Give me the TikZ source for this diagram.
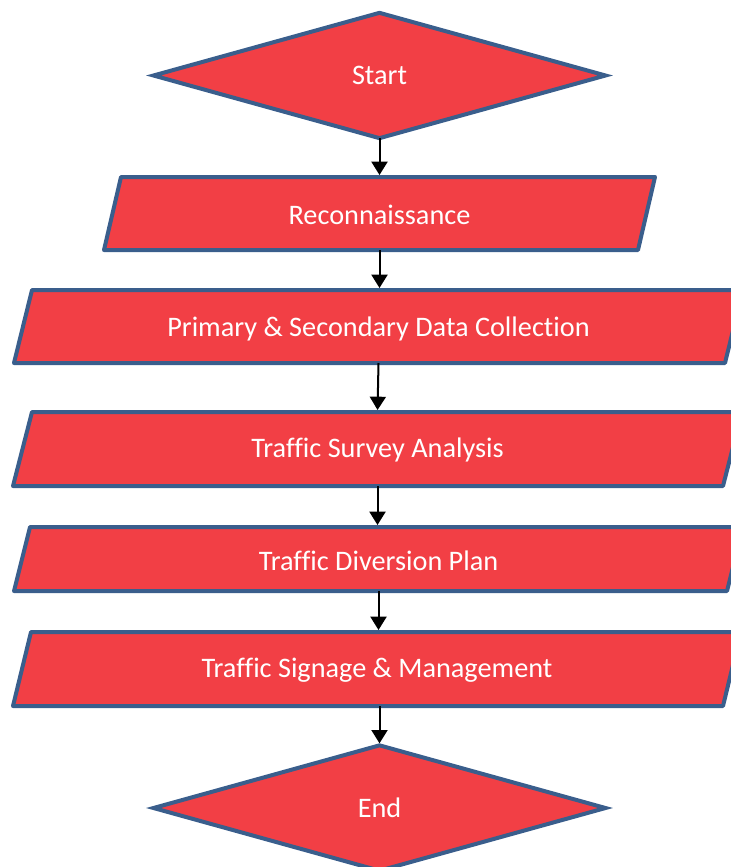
\documentclass[tikz,border=0pt]{standalone}
\usepackage{fontspec}
\setmainfont[Ligatures=NoCommon]{Carlito}
\usetikzlibrary{shapes.geometric,arrows.meta}
\definecolor{boxfill}{HTML}{F23F45}
\definecolor{boxline}{HTML}{3A5E8C}
\tikzset{
  term/.style={shape=diamond,draw=boxline,fill=boxfill,line width=3pt,inner sep=0pt,outer sep=0pt,
    minimum width=339pt,minimum height=94pt,text=white,font=\fontsize{21.2pt}{24pt}\selectfont},
  pbox/.style={shape=rectangle,draw=none,inner sep=0pt,outer sep=0pt,text=white,
    font=\fontsize{21.2pt}{24pt}\selectfont},
  pshape/.style={draw=boxline,fill=boxfill,line width=3pt,line join=round},
  flow/.style={line width=1.5pt,-{Triangle[width=12pt,length=10pt]},shorten >=1.5pt}
}
\begin{document}
\begin{tikzpicture}[x=0.75pt,y=-0.75pt]
\useasboundingbox (0,0) rectangle (731,867);
\clip (0,0) rectangle (731,867);
% start / end
\node[term] (start) at (379.5,75.5) {Start};
\node[term] (end) at (379.5,808) {End};
% process boxes (frames)
\node[pbox,minimum width=413.25pt,minimum height=54.75pt] (recon) at (379.5,213.5) {};
\node[pbox,minimum width=546.75pt,minimum height=54.75pt] (prim) at (378.5,326.5) {};
\node[pbox,minimum width=546.75pt,minimum height=55.5pt] (surv) at (377.5,449) {};
\node[pbox,minimum width=546.75pt,minimum height=48pt] (divr) at (378.5,559) {};
\node[pbox,minimum width=546pt,minimum height=55.5pt] (sign) at (377,669) {};
\draw[pshape] ([xshift=12.75pt]recon.north west) -- (recon.north east) -- ([xshift=-12.75pt]recon.south east) -- (recon.south west) -- cycle;
\draw[pshape] ([xshift=13.5pt]prim.north west) -- (prim.north east) -- ([xshift=-13.5pt]prim.south east) -- (prim.south west) -- cycle;
\draw[pshape] ([xshift=14.25pt]surv.north west) -- (surv.north east) -- ([xshift=-14.25pt]surv.south east) -- (surv.south west) -- cycle;
\draw[pshape] ([xshift=12pt]divr.north west) -- (divr.north east) -- ([xshift=-12pt]divr.south east) -- (divr.south west) -- cycle;
\draw[pshape] ([xshift=13.5pt]sign.north west) -- (sign.north east) -- ([xshift=-13.5pt]sign.south east) -- (sign.south west) -- cycle;
% labels
\node[pbox] (reconT) at ([yshift=-1pt]recon.center) {Reconnaissance};
\node[pbox] (primT) at ([yshift=-1.5pt]prim.center) {Primary \& Secondary Data Collection};
\node[pbox] (survT) at ([yshift=-1pt]surv.center) {Traffic Survey Analysis};
\node[pbox] (divrT) at ([yshift=-1pt]divr.center) {Traffic Diversion Plan};
\node[pbox] (signT) at ([yshift=-1pt]sign.center) {Traffic Signage \& Management};
% connectors
\draw[flow] (start.south) -- (start.south |- recon.north);
\draw[flow] (recon.south) -- (recon.south |- prim.north);
\draw[flow] (prim.south) -- (surv.north);
\draw[flow] (surv.south) -- (surv.south |- divr.north);
\draw[flow] (divr.south) -- (divr.south |- sign.north);
\draw[flow] (sign.south -| end.north) -- (end.north);
\end{tikzpicture}
\end{document}
